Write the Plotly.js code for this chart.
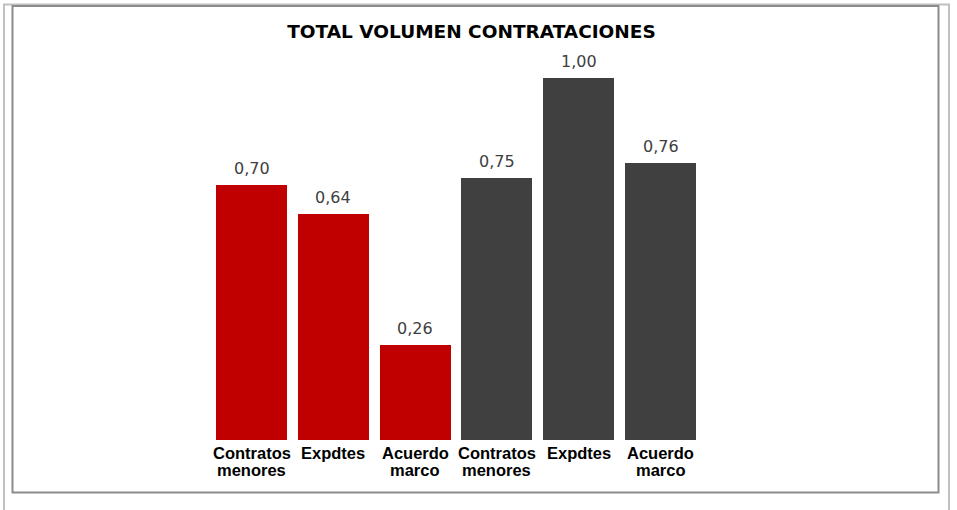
<!DOCTYPE html>
<html>
<head>
<meta charset="utf-8">
<script src="https://cdn.plot.ly/plotly-3.0.1.min.js"></script>
<style>
html,body{margin:0;padding:0;background:#fff;}
#chart{width:957px;height:510px;}
</style>
</head>
<body>
<div id="chart"></div>
<script>
const categories = ["Contratos<br>menores", "Expdtes", "Acuerdo<br>marco", "Contratos<br>menores", "Expdtes", "Acuerdo<br>marco"];
const positions = [0, 1, 2, 3, 4, 5];
const barHeights = [0.705, 0.625, 0.262, 0.724, 1.00, 0.764];
const valueLabels = ["0,70", "0,64", "0,26", "0,75", "1,00", "0,76"];
const barColors = ["#C00000", "#C00000", "#C00000", "#404040", "#404040", "#404040"];

const W = 957, H = 510;
const px = x => x / W;
const py = y => 1 - y / H;

const trace = {
  type: "bar",
  x: positions,
  y: barHeights,
  cliponaxis: false,
  marker: {color: barColors, line: {width: 0}},
  width: 0.868,
  hoverinfo: "skip"
};

const annotations = [];
positions.forEach((p, i) => {
  annotations.push({
    xref: "x", yref: "y", x: p, y: barHeights[i],
    text: valueLabels[i], showarrow: false,
    xanchor: "center", yanchor: "bottom", yshift: 5,
    font: {family: "DejaVu Sans", size: 16, color: "#404040"}
  });
  categories[i].split("<br>").forEach((line, j) => {
    annotations.push({
      xref: "x2", yref: "paper", x: p, y: py(453 + 16.5 * j),
      text: "<b>" + line + "</b>", showarrow: false,
      xanchor: "center", yanchor: "middle", borderpad: 0,
      font: {family: "Liberation Sans", size: 16.5, color: "#000"}
    });
  });
});

const layout = {
  width: W, height: H,
  margin: {l: 0, r: 0, t: 0, b: 0},
  paper_bgcolor: "#fff",
  plot_bgcolor: "rgba(0,0,0,0)",
  showlegend: false,
  title: {
    text: "<b>TOTAL VOLUMEN CONTRATACIONES</b>",
    font: {family: "DejaVu Sans", size: 18.5, color: "#000"},
    x: px(471.5), xanchor: "center",
    y: py(31.5), yanchor: "middle"
  },
  xaxis: {
    domain: [px(210.6), px(701.4)],
    range: [-0.5, 5.5],
    showticklabels: false,
    showgrid: false, zeroline: false, showline: false, ticks: "",
    fixedrange: true
  },
  xaxis2: {
    domain: [px(211.2), px(712.2)],
    range: [-0.5, 5.5],
    anchor: "y",
    overlaying: "x",
    visible: false,
    fixedrange: true
  },
  yaxis: {
    domain: [py(440), py(77.7)],
    range: [0, 1.0],
    visible: false,
    showgrid: false, zeroline: false,
    fixedrange: true
  },
  bargap: 0,
  annotations: annotations,
  shapes: [
    {type: "line", xref: "paper", yref: "paper", x0: px(3), x1: px(950), y0: py(4.5), y1: py(4.5), line: {color: "#C0C0C0", width: 2}},
    {type: "line", xref: "paper", yref: "paper", x0: px(4), x1: px(4), y0: py(4), y1: py(510), line: {color: "#C0C0C0", width: 2}},
    {type: "line", xref: "paper", yref: "paper", x0: px(949), x1: px(949), y0: py(4), y1: py(510), line: {color: "#C0C0C0", width: 2}},
    {type: "rect", xref: "paper", yref: "paper", x0: px(12.5), x1: px(938.5), y0: py(6), y1: py(492.5), line: {color: "#8C8C8C", width: 2}}
  ]
};

Plotly.newPlot("chart", [trace], layout, {displayModeBar: false, staticPlot: true});
</script>
</body>
</html>
